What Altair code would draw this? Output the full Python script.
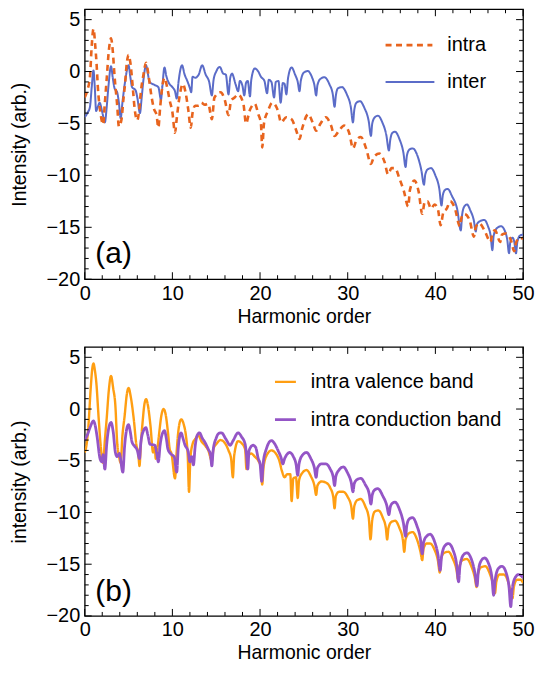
import altair as alt
import pandas as pd

FONT = "Liberation Sans"
W = 440
HA = 271
HB = 270

# ---------------- panel (a) ----------------
inter_pts = [
    (0, -4.4), (0.3, -4.0), (0.6, -3.4), (0.8, -1.5), (1.0, 0.1), (1.15, -1.5), (1.3, -3.8),
    (1.5, -3.4), (1.7, -3.0), (2.0, -3.9), (2.3, -4.9), (2.5, -3.5), (2.7, -1.5), (3.0, 0.5),
    (3.2, -0.6), (3.4, -1.6), (3.7, -2.0), (3.9, -3.0), (4.1, -4.5), (4.3, -3.0), (4.6, -1.0),
    (5.0, 0.6), (5.2, -0.5), (5.4, -1.5), (5.8, -1.8), (6.0, -2.5), (6.3, -4.0), (6.5, -2.5),
    (6.7, -0.8), (7.0, 0.6), (7.2, -0.2), (7.4, -1.0), (8.0, -1.3), (8.4, -1.5), (8.7, -2.7),
    (8.85, -1.5), (9.1, 0.4), (9.3, -0.4), (9.6, -1.1), (10.0, -1.5), (10.3, -1.9), (10.5, -2.6),
    (10.7, -1.0), (11.1, 0.6), (11.4, -0.3), (11.7, -0.9), (12.0, -1.6), (12.15, -2.0), (12.3, -0.5),
    (12.6, -0.6), (13.0, -0.3), (13.4, 0.6), (13.8, -0.3), (14.2, -1.0), (14.5, -2.3), (14.7, -0.8),
    (15.0, 0.0), (15.4, 0.45), (15.8, -0.2), (16.1, -0.3), (16.4, -2.2), (16.6, -0.6), (16.8, -0.2),
    (17.2, -1.2), (17.5, -1.9), (17.7, -0.9), (18.0, -1.4), (18.2, -2.3), (18.4, -1.1), (18.6, -0.9),
    (18.85, -2.4), (19.0, -0.8), (19.4, 0.3), (19.8, 0.0), (20.1, -0.5), (20.5, -0.9), (20.8, -2.1),
    (21.0, -0.8), (21.3, -1.0), (21.6, -2.5), (21.8, -1.0), (22.1, -0.9), (22.35, -3.0), (22.6, -1.1),
    (22.8, -1.2), (23.0, -2.2), (23.2, -0.6), (23.6, 0.4), (24.0, -0.3), (24.3, -1.0), (24.5, -1.9),
    (24.65, -0.9), (25.0, -0.1), (25.45, 0.05), (25.9, -0.5), (26.2, -1.3), (26.4, -2.3), (26.55, -1.3),
    (26.9, -0.7), (27.35, -0.55), (27.9, -1.2), (28.3, -2.2), (28.5, -3.4), (28.65, -2.3), (28.9, -1.6),
    (29.35, -1.5), (29.9, -2.2), (30.35, -3.4), (30.6, -4.9), (30.75, -3.7), (31.0, -3.0), (31.4, -2.85),
    (31.9, -3.5), (32.4, -4.8), (32.65, -6.2), (32.8, -5.0), (33.1, -4.4), (33.45, -4.25), (33.95, -4.9),
    (34.4, -6.1), (34.7, -7.6), (34.85, -6.6), (35.1, -5.9), (35.4, -5.8), (35.9, -6.5), (36.35, -7.8),
    (36.6, -9.2), (36.75, -8.1), (37.05, -7.5), (37.4, -7.4), (37.95, -8.1), (38.4, -9.5), (38.7, -10.9),
    (38.85, -9.9), (39.15, -9.4), (39.5, -9.3), (40.0, -10.0), (40.45, -11.3), (40.7, -12.9), (40.85, -11.9),
    (41.1, -11.4), (41.4, -11.3), (41.9, -12.0), (42.5, -13.3), (42.9, -15.3), (43.05, -13.8), (43.3, -13.0),
    (43.6, -12.8), (44.0, -13.4), (44.4, -14.4), (44.6, -15.4), (44.75, -14.7), (45.1, -14.4), (45.6, -14.3),
    (46.0, -14.9), (46.3, -15.8), (46.5, -17.2), (46.65, -15.8), (47.0, -15.1), (47.5, -14.9), (47.9, -15.3),
    (48.2, -16.2), (48.4, -17.5), (48.55, -16.4), (48.8, -16.0), (49.0, -16.4), (49.2, -17.5), (49.35, -16.4),
    (49.65, -15.8), (50.0, -15.7),
]

intra_pts = [
    (0, -2.5), (0.3, -1.8), (0.6, -0.5), (0.8, 2.5), (1.0, 4.1), (1.2, 2.5), (1.35, 0.8), (1.5, -1.5),
    (1.8, -4.0), (2.1, -5.1), (2.3, -3.0), (2.5, -0.8), (2.75, 2.0), (3.0, 3.2), (3.2, 2.0), (3.4, -0.4),
    (3.7, -3.2), (3.9, -5.3), (4.2, -4.6), (4.4, -2.8), (4.6, -1.2), (4.8, 0.8), (5.0, 1.6), (5.2, 0.9),
    (5.5, -1.7), (5.7, -3.6), (6.0, -4.7), (6.2, -3.8), (6.4, -2.0), (6.7, -0.3), (7.0, 0.85), (7.3, -0.5),
    (7.6, -2.3), (7.9, -3.6), (8.2, -4.2), (8.4, -5.4), (8.6, -3.5), (8.8, -1.8), (9.1, -0.6), (9.4, -1.5),
    (9.7, -2.8), (10.0, -3.9), (10.3, -5.9), (10.5, -4.5), (10.8, -2.5), (11.2, -1.2), (11.5, -2.0),
    (11.8, -3.6), (12.1, -5.4), (12.3, -4.0), (12.6, -3.3), (13.0, -3.3), (13.3, -3.0), (13.7, -3.2),
    (14.1, -3.1), (14.5, -4.6), (14.8, -2.5), (15.5, -2.0), (16.0, -2.8), (16.4, -4.2), (16.7, -2.8),
    (17.1, -2.5), (17.5, -2.2), (18.1, -3.1), (18.4, -5.0), (18.8, -3.8), (19.4, -3.1), (19.8, -4.1),
    (20.1, -5.0), (20.25, -7.3), (20.45, -5.0), (20.9, -3.8), (21.4, -3.0), (22.05, -3.8), (22.4, -4.9),
    (23.0, -4.4), (23.6, -4.6), (24.1, -5.6), (24.5, -6.5), (24.8, -5.5), (25.5, -4.1), (26.0, -4.9),
    (26.4, -5.7), (26.9, -5.0), (27.5, -4.4), (28.1, -5.2), (28.5, -6.2), (29.0, -5.7), (29.6, -5.2),
    (30.2, -6.0), (30.6, -7.4), (31.0, -6.6), (31.5, -6.3), (32.1, -7.4), (32.65, -8.9), (33.0, -8.2),
    (33.6, -7.9), (34.2, -8.7), (34.6, -9.9), (35.0, -9.3), (35.4, -9.3), (35.9, -10.3), (36.4, -11.5),
    (36.9, -13.0), (37.1, -11.4), (37.6, -10.5), (38.1, -11.6), (38.5, -13.7), (38.8, -12.5), (39.1, -12.5),
    (39.5, -13.2), (39.9, -12.8), (40.3, -13.3), (40.6, -14.8), (40.9, -13.6), (41.3, -13.2), (41.7, -12.5),
    (42.2, -13.1), (42.8, -14.9), (43.0, -14.0), (43.3, -13.7), (43.9, -14.3), (44.4, -15.9), (44.6, -15.0),
    (45.0, -14.6), (45.6, -15.3), (46.3, -16.4), (46.5, -15.6), (46.8, -15.3), (47.4, -16.4), (47.6, -15.7),
    (48.0, -15.6), (48.6, -16.2), (49.0, -17.3), (49.2, -16.5), (49.6, -16.0), (50.0, -16.1),
]

# ---------------- panel (b) ----------------
valence_pts = [
    (0, -4.2), (0.2, -3.5), (0.4, -1.9), (0.7, 2.2), (0.85, 3.8), (1.0, 4.4), (1.15, 3.8), (1.33, 2.5),
    (1.6, -1.0), (1.9, -4.2), (2.1, -5.2), (2.3, -3.0), (2.5, -1.0), (2.75, 1.8), (3.0, 3.2), (3.25, 2.0),
    (3.5, 0.3), (3.7, -3.2), (3.9, -4.5), (4.1, -5.2), (4.3, -2.6), (4.55, -0.7), (4.8, 1.4), (5.0, 2.05),
    (5.25, 1.2), (5.6, -1.0), (5.9, -3.5), (6.1, -4.2), (6.25, -5.5), (6.4, -3.4), (6.6, -1.3), (6.8, 0.4),
    (7.0, 0.95), (7.2, 0.4), (7.5, -1.6), (7.8, -4.2), (8.0, -3.7), (8.1, -4.8), (8.3, -3.8), (8.5, -2.3),
    (8.75, -0.6), (9.0, 0.0), (9.25, -0.6), (9.5, -2.3), (9.7, -3.9), (9.9, -4.3), (10.3, -6.7), (10.5, -4.0),
    (10.7, -2.0), (11.0, -1.0), (11.3, -1.5), (11.55, -2.6), (11.75, -4.5), (11.9, -8.0), (12.05, -4.8),
    (12.3, -3.4), (12.6, -2.9), (13.0, -2.6), (13.3, -3.1), (13.7, -3.5), (14.1, -4.0), (14.5, -5.0),
    (14.7, -3.8), (15.0, -3.4), (15.5, -3.0), (16.0, -3.3), (16.4, -4.0), (16.7, -4.8), (16.9, -6.6),
    (17.05, -4.5), (17.5, -3.1), (17.9, -3.3), (18.3, -3.9), (18.45, -5.8), (18.6, -4.6), (19.0, -4.3),
    (19.4, -4.6), (19.8, -5.0), (20.1, -5.6), (20.25, -7.3), (20.4, -5.6), (20.8, -4.4), (21.3, -4.0),
    (21.8, -4.3), (22.2, -5.0), (22.5, -6.0), (22.8, -6.6), (23.1, -6.3), (23.45, -6.3), (23.6, -8.9),
    (23.8, -6.7), (24.1, -6.6), (24.3, -8.6), (24.45, -6.9), (24.8, -6.2), (25.3, -5.9), (25.8, -6.5),
    (26.2, -7.4), (26.4, -8.3), (26.55, -7.4), (27.0, -7.0), (27.5, -7.1), (28.0, -7.6), (28.35, -8.5),
    (28.5, -9.6), (28.65, -8.4), (29.0, -8.0), (29.5, -8.0), (30.0, -8.5), (30.4, -9.4), (30.6, -10.6),
    (30.75, -9.4), (31.1, -8.8), (31.5, -8.7), (32.0, -9.4), (32.4, -10.5), (32.6, -12.6), (32.8, -10.7),
    (33.1, -9.9), (33.5, -9.8), (34.0, -10.5), (34.35, -11.5), (34.5, -12.6), (34.65, -11.5), (35.0, -10.9),
    (35.4, -10.8), (35.9, -11.5), (36.3, -12.7), (36.45, -13.8), (36.6, -12.6), (37.0, -12.0), (37.4, -11.9),
    (37.9, -12.6), (38.3, -13.8), (38.5, -14.6), (38.65, -13.5), (39.0, -13.0), (39.4, -13.0), (39.9, -13.6),
    (40.3, -14.7), (40.5, -15.8), (40.65, -14.5), (41.0, -13.9), (41.5, -13.8), (42.0, -14.5), (42.4, -15.5),
    (42.6, -16.5), (42.75, -15.2), (43.1, -14.6), (43.6, -14.5), (44.1, -15.2), (44.5, -16.3), (44.7, -17.2),
    (44.85, -16.0), (45.2, -15.3), (45.7, -15.2), (46.2, -15.9), (46.6, -17.0), (46.8, -17.8), (46.95, -16.7),
    (47.3, -16.0), (47.8, -16.0), (48.3, -16.7), (48.6, -17.7), (48.8, -18.3), (48.95, -17.2), (49.3, -16.5),
    (49.7, -16.5), (50.0, -16.8),
]

conduction_pts = [
    (0, -3.0), (0.3, -2.5), (0.6, -1.8), (1.0, -1.15), (1.2, -1.6), (1.4, -2.6), (1.75, -4.8), (1.95, -5.1),
    (2.1, -4.4), (2.3, -5.8), (2.5, -3.5), (2.75, -1.8), (3.0, -1.3), (3.25, -2.2), (3.5, -4.2), (3.7, -4.6),
    (3.95, -4.3), (4.35, -6.1), (4.55, -3.6), (4.8, -1.9), (5.0, -1.5), (5.2, -2.2), (5.4, -3.2), (5.7, -3.6),
    (6.0, -4.0), (6.25, -4.8), (6.4, -3.3), (6.7, -2.1), (6.97, -1.8), (7.2, -2.5), (7.45, -3.4), (8.0, -3.5),
    (8.2, -4.2), (8.4, -5.1), (8.6, -3.5), (8.85, -2.4), (9.1, -2.1), (9.3, -2.8), (9.5, -3.9), (9.9, -4.4),
    (10.2, -4.6), (10.5, -6.1), (10.65, -4.0), (10.8, -2.8), (11.0, -2.3), (11.2, -2.8), (11.45, -3.5),
    (11.8, -4.1), (12.0, -5.1), (12.2, -4.6), (12.4, -5.4), (12.6, -3.6), (12.85, -2.5), (13.1, -2.3),
    (13.4, -2.8), (13.7, -3.2), (14.1, -3.9), (14.35, -4.4), (14.5, -5.5), (14.65, -4.0), (15.0, -2.8),
    (15.3, -2.35), (15.6, -2.3), (16.1, -2.9), (16.6, -3.5), (16.9, -3.1), (17.5, -2.3), (17.9, -2.7),
    (18.3, -3.4), (18.45, -4.4), (18.6, -5.8), (18.75, -4.0), (19.2, -3.5), (19.5, -3.7), (19.8, -4.8),
    (20.0, -5.3), (20.2, -7.0), (20.35, -5.3), (20.7, -3.9), (21.3, -3.05), (21.7, -3.4), (22.05, -4.0),
    (22.4, -4.7), (22.6, -5.3), (22.8, -4.8), (23.4, -4.2), (23.8, -4.6), (24.1, -5.3), (24.3, -6.4),
    (24.45, -5.3), (24.8, -4.5), (25.3, -4.2), (25.8, -4.8), (26.2, -5.7), (26.4, -6.6), (26.55, -5.7),
    (27.0, -5.3), (27.5, -5.3), (28.0, -5.8), (28.35, -6.6), (28.5, -7.4), (28.65, -6.5), (29.0, -5.9),
    (29.5, -5.6), (30.0, -6.2), (30.4, -7.1), (30.6, -8.0), (30.75, -7.2), (31.1, -6.8), (31.5, -6.7),
    (32.0, -7.3), (32.45, -8.2), (32.65, -9.2), (32.8, -8.3), (33.1, -7.8), (33.45, -7.7), (34.0, -8.4),
    (34.45, -9.3), (34.7, -10.2), (34.85, -9.5), (35.1, -9.1), (35.4, -9.0), (35.9, -9.7), (36.35, -11.0),
    (36.6, -12.3), (36.75, -11.2), (37.05, -10.6), (37.4, -10.5), (37.9, -11.3), (38.3, -12.6), (38.5, -14.0),
    (38.65, -12.9), (39.0, -12.3), (39.4, -12.1), (39.9, -12.8), (40.3, -14.1), (40.55, -15.6), (40.7, -14.3),
    (41.1, -13.2), (41.5, -13.0), (42.0, -13.6), (42.4, -14.9), (42.65, -16.7), (42.8, -15.2), (43.2, -14.1),
    (43.6, -13.9), (44.1, -14.5), (44.5, -15.8), (44.75, -17.1), (44.9, -15.7), (45.2, -14.7), (45.6, -14.4),
    (46.1, -15.0), (46.45, -16.3), (46.65, -18.0), (46.8, -16.6), (47.2, -15.4), (47.6, -15.2), (48.1, -15.9),
    (48.4, -17.2), (48.6, -19.1), (48.75, -17.5), (49.1, -16.3), (49.5, -16.0), (50.0, -16.3),
]

x_major = [0, 10, 20, 30, 40, 50]
x_minor = [2, 4, 6, 8, 12, 14, 16, 18, 22, 24, 26, 28, 32, 34, 36, 38, 42, 44, 46, 48]
y_major = [-20, -15, -10, -5, 0, 5]
y_minor = [-19, -18, -17, -16, -14, -13, -12, -11, -9, -8, -7, -6, -4, -3, -2, -1, 1, 2, 3, 4]

C_INTRA = "#E8641E"
C_INTER = "#5B6CC8"
C_VAL = "#FF9E12"
C_CON = "#9455C6"

xs = alt.Scale(domain=[0, 50], nice=False, zero=False)
ys = alt.Scale(domain=[-20, 6], nice=False, zero=False)
dummy = pd.DataFrame({"a": [0]})


def pts_df(pts):
    return pd.DataFrame(pts, columns=["h", "v"])


def axis_x():
    return alt.Axis(values=x_major, format="d", title="Harmonic order", ticks=False, domain=False,
                    grid=False, labelPadding=4, titlePadding=4, labelFontSize=20, titleFontSize=19.5,
                    labelFont=FONT, titleFont=FONT, labelColor="black", titleColor="black",
                    titleFontWeight="normal", labelFlush=False, labelOverlap=False)


def axis_y(title):
    return alt.Axis(values=y_major, format="d", title=title, ticks=False, domain=False,
                    grid=False, labelPadding=5, titlePadding=17, labelFontSize=20, titleFontSize=19.5,
                    labelFont=FONT, titleFont=FONT, labelColor="black", titleColor="black",
                    titleFontWeight="normal", labelOverlap=False)


def line_layer(pts, color, width, dash, ytitle):
    m = alt.Chart(pts_df(pts)).mark_line(color=color, strokeWidth=width, strokeDash=dash,
                                         interpolate="monotone", clip=True)
    return m.encode(x=alt.X("h:Q", scale=xs, axis=axis_x()),
                    y=alt.Y("v:Q", scale=ys, axis=axis_y(ytitle)))


def tick_layers(H, ytitle):
    L = []
    for vals, ln in ((x_major, 7), (x_minor, 4)):
        d = pd.DataFrame({"h": vals})
        base = alt.Chart(d).mark_rule(color="black", strokeWidth=1)
        L.append(base.encode(x=alt.X("h:Q", scale=xs, axis=axis_x()), y=alt.value(H), y2=alt.value(H - ln)))
        L.append(base.encode(x=alt.X("h:Q", scale=xs, axis=axis_x()), y=alt.value(0), y2=alt.value(ln)))
    for vals, ln in ((y_major, 7), (y_minor, 4)):
        d = pd.DataFrame({"v": vals})
        base = alt.Chart(d).mark_rule(color="black", strokeWidth=1)
        L.append(base.encode(y=alt.Y("v:Q", scale=ys, axis=axis_y(ytitle)), x=alt.value(0), x2=alt.value(ln)))
        L.append(base.encode(y=alt.Y("v:Q", scale=ys, axis=axis_y(ytitle)), x=alt.value(W), x2=alt.value(W - ln)))
    return L


def legend_entry(x0, x1, xt, y, color, width, dash, label):
    r = alt.Chart(dummy).mark_rule(color=color, strokeWidth=width, strokeDash=dash).encode(
        x=alt.value(x0), x2=alt.value(x1), y=alt.value(y))
    t = alt.Chart(dummy).mark_text(align="left", baseline="middle", font=FONT, fontSize=20,
                                   color="black").encode(x=alt.value(xt), y=alt.value(y),
                                                         text=alt.value(label))
    return [r, t]


def tag(label):
    return alt.Chart(dummy).mark_text(align="center", baseline="middle", font=FONT, fontSize=30,
                                      color="black").encode(x=alt.value(29), y=alt.value(246),
                                                            text=alt.value(label))


YA = "Intensity (arb.)"
YB = "intensity (arb.)"

panel_a = alt.layer(
    line_layer(inter_pts, C_INTER, 2, [1, 0], YA),
    line_layer(intra_pts, C_INTRA, 2.6, [6, 4.5], YA),
    *tick_layers(HA, YA),
    *legend_entry(302, 349, 364, 36, C_INTRA, 2.6, [6, 4.5], "intra"),
    *legend_entry(302, 351, 364, 73, C_INTER, 2, [1, 0], "inter"),
    tag("(a)"),
).properties(width=W, height=HA)

panel_b = alt.layer(
    line_layer(valence_pts, C_VAL, 2.4, [1, 0], YB),
    line_layer(conduction_pts, C_CON, 2.8, [1, 0], YB),
    *tick_layers(HB, YB),
    *legend_entry(191, 212, 227, 35, C_VAL, 2.4, [1, 0], "intra valence band"),
    *legend_entry(191, 212, 227, 73, C_CON, 2.8, [1, 0], "intra conduction band"),
    tag("(b)"),
).properties(width=W, height=HB)

chart = alt.vconcat(panel_a, panel_b, spacing=18).properties(
    padding={"left": 0, "top": -2, "right": 0, "bottom": 0}, background="white"
).configure_view(stroke="black", strokeWidth=1.3)

chart.save("out.html", embed_options={"renderer": "svg", "actions": False})
